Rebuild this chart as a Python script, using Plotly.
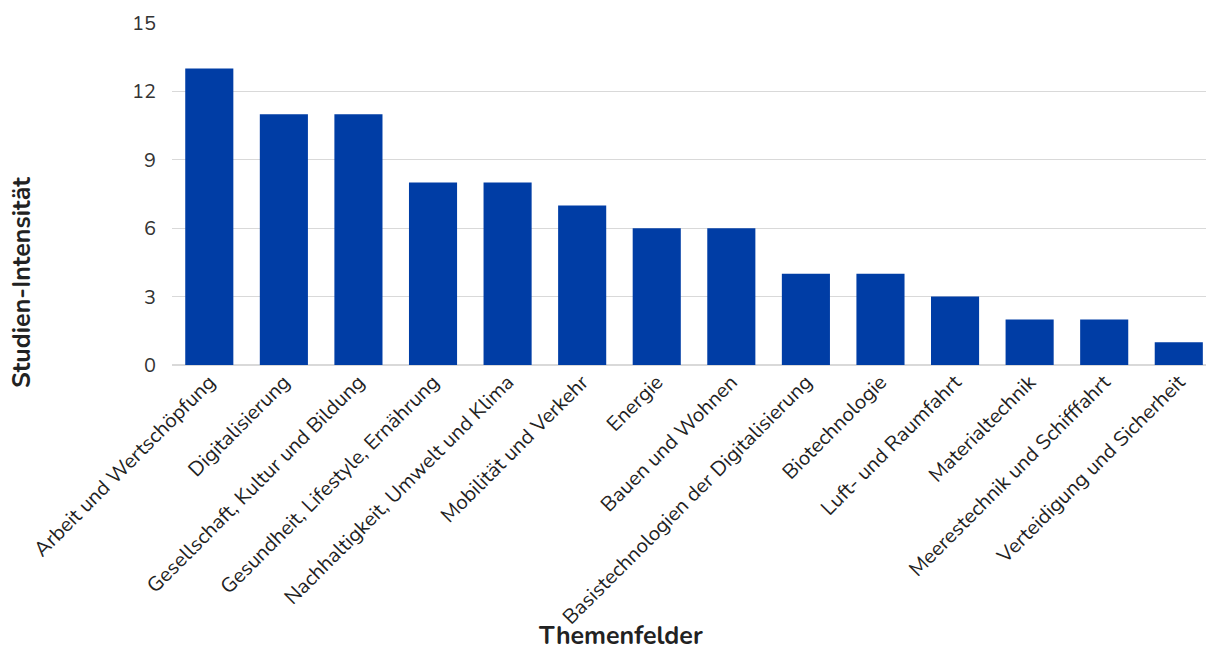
import plotly.graph_objects as go

categories = ["Arbeit und Wertschöpfung", "Digitalisierung", "Gesellschaft, Kultur und Bildung",
              "Gesundheit, Lifestyle, Ernährung", "Nachhaltigkeit, Umwelt und Klima",
              "Mobilität und Verkehr", "Energie", "Bauen und Wohnen",
              "Basistechnologien der Digitalisierung", "Biotechnologie", "Luft- und Raumfahrt",
              "Materialtechnik", "Meerestechnik und Schifffahrt", "Verteidigung und Sicherheit"]
values = [13, 11, 11, 8, 8, 7, 6, 6, 4, 4, 3, 2, 2, 1]
y_ticks = [0, 3, 6, 9, 12, 15]

font = "Nunito, Lato, sans-serif"
fig = go.Figure(go.Bar(x=categories, y=values, marker_color="#003DA5", marker_line_width=0))
fig.update_layout(
    width=1206, height=648,
    margin=dict(l=172, r=0, t=23, b=283),
    paper_bgcolor="white", plot_bgcolor="white",
    bargap=0.355,
    showlegend=False,
    font=dict(family=font, color="#222222"),
)
fig.update_xaxes(
    range=[-0.5, 13.365], tickangle=-45, tickfont=dict(size=20.5, color="#222222"),
    showline=False, ticks="",
)
fig.update_yaxes(
    range=[0, 15], tickvals=y_ticks, tickfont=dict(size=20, color="#333333"),
    showgrid=True, gridcolor="#D9D9D9", gridwidth=1, zeroline=True, zerolinecolor="#D9D9D9",
    ticks="", ticklabelstandoff=15,
)
fig.add_annotation(text="<b>Themenfelder</b>", xref="paper", yref="paper",
                   x=(620 - 172) / 1034, y=-(636 - 365) / 342, xanchor="center", yanchor="middle",
                   borderpad=0, showarrow=False, font=dict(size=25, color="#222222"))
fig.add_annotation(text="<b>Studien-Intensität</b>", xref="paper", yref="paper",
                   x=-(172 - 22) / 1034, y=(365 - 283) / 342, xanchor="center", yanchor="middle",
                   textangle=-90, showarrow=False, font=dict(size=25, color="#222222"))
fig.write_html("out.html")
